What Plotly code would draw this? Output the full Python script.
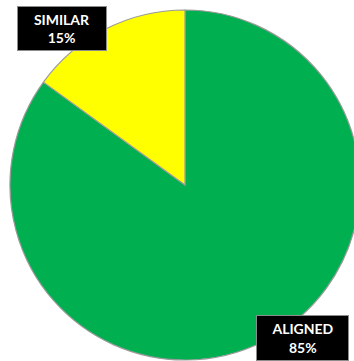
import plotly.graph_objects as go

# Share of items by match type
categories = ["ALIGNED", "SIMILAR"]
shares = [85, 15]
slice_colors = ["#00B050", "#FFFF00"]

W, H = 362, 361

fig = go.Figure(
    go.Pie(
        labels=categories,
        values=shares,
        sort=False,
        direction="counterclockwise",
        rotation=0,
        marker=dict(colors=slice_colors, line=dict(color="#9A9A9A", width=1.2)),
        textinfo="none",
        hoverinfo="skip",
        showlegend=False,
        domain=dict(x=[10 / W, 360 / W], y=[1 / H, 351 / H]),
    )
)

# Callout boxes: label name on top, percentage underneath
box_specs = {
    "SIMILAR": dict(x=62, y=28.5, w=88, h=43),
    "ALIGNED": dict(x=302.5, y=337.5, w=91, h=44),
}
annotations = []
for name, val in zip(categories, shares):
    spec = box_specs[name]
    annotations.append(
        dict(
            x=spec["x"] / W,
            y=1 - spec["y"] / H,
            xref="paper",
            yref="paper",
            xanchor="center",
            yanchor="middle",
            showarrow=False,
            text=f"<b>{name}</b><br><b>{val}%</b>",
            font=dict(family="Lato, Open Sans, sans-serif", size=14, color="white"),
            align="center",
            bgcolor="black",
            bordercolor="#8C8C8C",
            borderwidth=1,
            borderpad=0,
            width=spec["w"],
            height=spec["h"],
        )
    )

fig.update_layout(
    width=W,
    height=H,
    margin=dict(l=0, r=0, t=0, b=0),
    paper_bgcolor="white",
    plot_bgcolor="white",
    annotations=annotations,
)

fig.write_html(
    "out.html",
    config={"displayModeBar": False},
    post_script="document.body.style.overflow='hidden';document.documentElement.style.overflow='hidden';",
)
